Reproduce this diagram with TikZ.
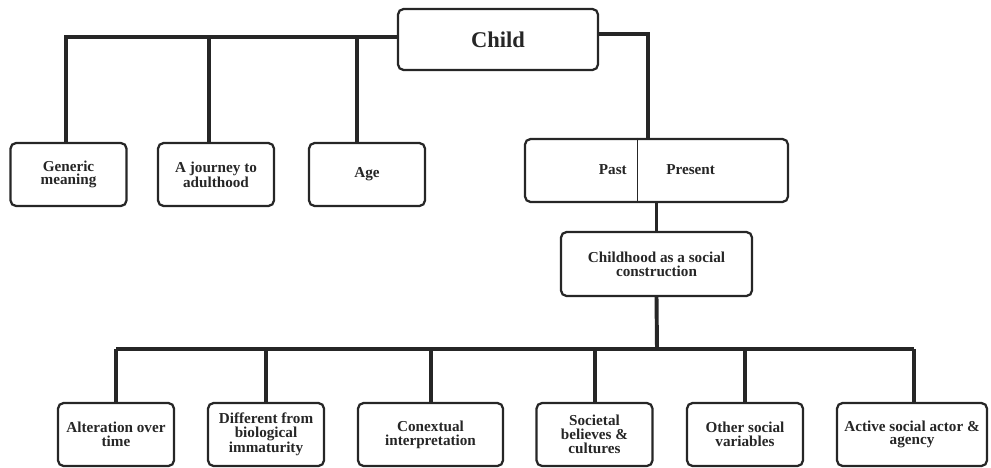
\documentclass[tikz,border=0pt]{standalone}
\usepackage{fontspec}
\setmainfont{Liberation Serif}
\usetikzlibrary{positioning}

\tikzset{
  box/.style={shape=rectangle, rounded corners=4pt, draw=black!85, line width=1.6pt,
    align=center, text=black!85, inner sep=2pt,
    font=\bfseries\fontsize{10.8}{9.8}\selectfont},
  topbox/.style={box, minimum width=2.9cm, minimum height=1.575cm},
  link/.style={draw=black!85, line width=2.8pt, line join=miter},
  tag/.style={text=black!85, inner sep=0pt, font=\bfseries\fontsize{10.8}{9.8}\selectfont},
}

\begin{document}
\begin{tikzpicture}[x=0.025cm, y=-0.025cm]
      \useasboundingbox (0,0) rectangle (991,467);

      \node (child) [box, minimum width=5cm, minimum height=1.525cm,
        font=\bfseries\fontsize{16}{17}\selectfont] at (498,39.5) {Child};

      \node (gen) [topbox] at (68.5,174.5) {Generic\\meaning};
      \node (jour) [topbox] at (216,174.5) {A journey to\\adulthood};
      \node (age) [topbox] at (367,174.5) {Age};

      \node (pp) [box, minimum width=6.575cm, minimum height=1.575cm] at (656.5,170.5) {};
      \coordinate (div) at (637,0);
      \draw [line width=0.6pt, black!85] (div |- pp.north) -- (div |- pp.south);
      \node (past) [tag, anchor=east] at (627,170) {Past};
      \node (present) [tag, anchor=west] at (666,170) {Present};

      \node (cs) [box, minimum width=4.775cm, minimum height=1.6cm] at (656.5,264)
        {Childhood as a social\\construction};

      \node (alt) [topbox] at (116,434.5) {Alteration over\\time};
      \node (diff) [topbox] at (266,434.5) {Different from\\biological\\immaturity};
      \node (conx) [topbox, minimum width=3.625cm] at (430.5,434.5) {Conextual\\interpretation};
      \node (soc) [topbox] at (594.5,434.5) {Societal\\believes \&\\cultures};
      \node (oth) [topbox] at (745,434.5) {Other social\\variables};
      \node (act) [topbox, minimum width=3.75cm] at (912,434.5) {Active social actor \&\\agency};

      % upper tree
      \coordinate (b1) at (66,37);
      \coordinate (b2) at (209,37);
      \coordinate (b3) at (357,37);
      \coordinate (r1) at (648,34);
      \draw [link] (child.west |- b1) -- (b1) -- (b1 |- gen.north);
      \draw [link] (b2) -- (b2 |- jour.north);
      \draw [link] (b3) -- (b3 |- age.north);
      \draw [link] (child.east |- r1) -- (r1) -- (r1 |- pp.north);
      \draw [link] (pp.south) -- (cs.north);

      % lower tree
      \coordinate (bus) at (657,349);
      \draw [link] (cs.south) -- (bus);
      \draw [link] (116,349) -- (914,349);
      \foreach \d/\n in {116/alt, 266/diff, 431/conx, 595/soc, 745/oth, 914/act}
        \draw [link] (\d,349) -- (\d,349 |- \n.north);
\end{tikzpicture}
\end{document}
